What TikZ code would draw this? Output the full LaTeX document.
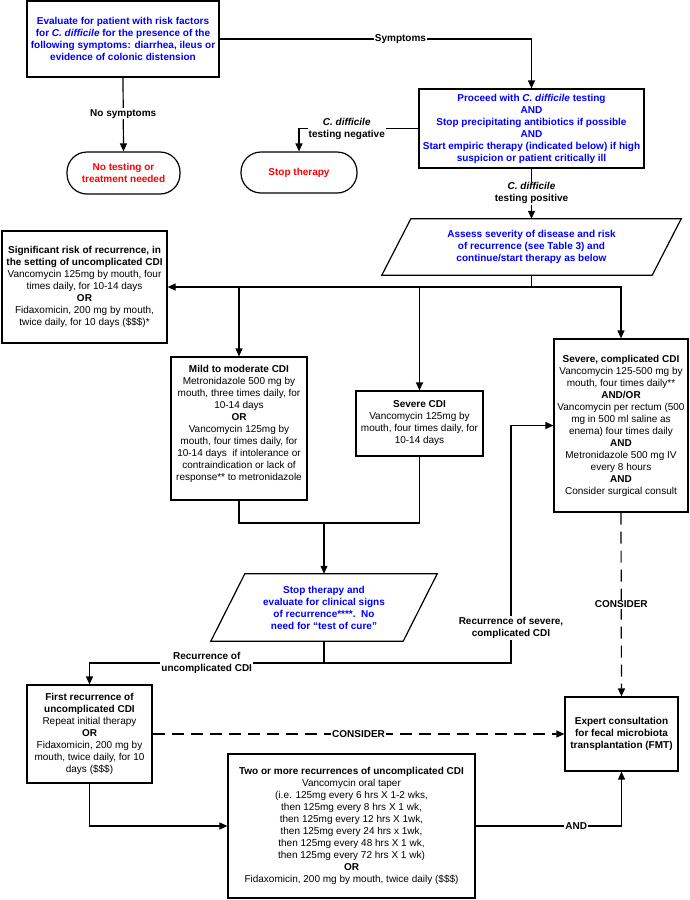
\documentclass[tikz,border=0pt]{standalone}
\usepackage{fontspec}
\setmainfont{Liberation Sans}
\usetikzlibrary{arrows.meta,positioning,calc}

\newcommand\boxfont{\fontsize{10}{12}\selectfont}

\tikzset{
    box/.style={draw,line width=1.2pt,align=center,inner sep=1pt,font=\boxfont},
    bluebox/.style={box,text=blue,font=\boxfont\bfseries},
    term/.style={box,rounded corners=20pt,text=red,font=\boxfont\bfseries},
    paratext/.style={align=center,inner sep=0pt,text=blue,font=\boxfont\bfseries},
    lbl/.style={fill=white,inner sep=1pt,align=center,font=\boxfont\bfseries},
    link/.style={line width=1.2pt},
    arr/.style={link,-{Triangle[length=8pt,width=7pt]}},
    maybe/.style={arr,dash pattern=on 12pt off 7pt}
}

\begin{document}
\begin{tikzpicture}[x=1pt,y=-1pt]
\useasboundingbox (0,0) rectangle (690,900);

% === Screening ===
\node[bluebox,minimum width=192,minimum height=76] (eval) at (123,39)
    {Evaluate for patient with risk factors\\
     for \textit{C. difficile} for the presence of the\\
     following symptoms: diarrhea, ileus or\\
     evidence of colonic distension};
\node[bluebox,minimum width=225,minimum height=79] (proceed) at (531.5,128.5)
    {Proceed with \textit{C. difficile} testing\\
     AND\\
     Stop precipitating antibiotics if possible\\
     AND\\
     Start empiric therapy (indicated below) if high\\
     suspicion or patient critically ill};
\node[term,minimum width=113,minimum height=42] (notest) at (123.5,173)
    {No testing or\\ treatment needed};
\node[term,minimum width=116,minimum height=41] (stopthx) at (299,172.5)
    {Stop therapy};

% Assess (parallelogram)
\node[paratext,minimum width=299,minimum height=56] (assess) at (531.5,247)
    {Assess severity of disease and risk\\
     of recurrence (see Table 3) and\\
     continue/start therapy as below};
\draw[link] (assess.south west) -- ($(assess.north west)+(29,0)$)
    -- (assess.north east) -- ($(assess.south east)-(29,0)$) -- cycle;

% === Treatment by severity ===
\node[box,minimum width=165,minimum height=112] (risk) at (84.5,287)
    {\textbf{Significant risk of recurrence, in}\\
     \textbf{the setting of uncomplicated CDI}\\
     Vancomycin 125mg by mouth, four\\
     times daily, for 10-14 days\\
     \textbf{OR}\\
     Fidaxomicin, 200 mg by mouth,\\
     twice daily, for 10 days (\$\$\$)*};
\node[box,minimum width=136,minimum height=143] (mild) at (239,428.5)
    {\textbf{Mild to moderate CDI}\\
     Metronidazole 500 mg by\\
     mouth, three times daily, for\\
     10-14 days\\
     \textbf{OR}\\
     Vancomycin 125mg by\\
     mouth, four times daily, for\\
     10-14 days\ \ if intolerance or\\
     contraindication or lack of\\
     response** to metronidazole\\ ~};
\node[box,minimum width=127,minimum height=65] (severe) at (419.5,423.5)
    {\textbf{Severe CDI}\\
     Vancomycin 125mg by\\
     mouth, four times daily, for\\
     10-14 days};
\node[box,minimum width=134,minimum height=173] (complicated) at (621,425.5)
    {\textbf{Severe, complicated CDI}\\
     Vancomycin 125-500 mg by\\
     mouth, four times daily**\\
     \textbf{AND/OR}\\
     Vancomycin per rectum (500\\
     mg in 500 ml saline as\\
     enema) four times daily\\
     \textbf{AND}\\
     Metronidazole 500 mg IV\\
     every 8 hours\\
     \textbf{AND}\\
     Consider surgical consult};

% Stop and evaluate (parallelogram)
\node[paratext,minimum width=226,minimum height=67] (stopeval) at (324,607.5)
    {Stop therapy and\\
     evaluate for clinical signs\\
     of recurrence****.\ \ No\\
     need for “test of cure”};
\draw[link] (stopeval.south west) -- ($(stopeval.north west)+(34,0)$)
    -- (stopeval.north east) -- ($(stopeval.south east)-(34,0)$) -- cycle;

% === Recurrence ===
\node[box,minimum width=125,minimum height=98] (first) at (89.5,734)
    {\textbf{First recurrence of}\\
     \textbf{uncomplicated CDI}\\
     Repeat initial therapy\\
     \textbf{OR}\\
     Fidaxomicin, 200 mg by\\
     mouth, twice daily, for 10\\
     days (\$\$\$)};
\node[box,font=\boxfont\bfseries,minimum width=113,minimum height=74] (expert) at (621.5,734)
    {Expert consultation\\
     for fecal microbiota\\
     transplantation (FMT)};
\node[box,minimum width=247,minimum height=144] (two) at (351.5,826)
    {\textbf{Two or more recurrences of uncomplicated CDI}\\
     Vancomycin oral taper\\
     (i.e. 125mg every 6 hrs X 1-2 wks,\\
     then 125mg every 8 hrs X 1 wk,\\
     then 125mg every 12 hrs X 1wk,\\
     then 125mg every 24 hrs x 1wk,\\
     then 125mg every 48 hrs X 1 wk,\\
     then 125mg every 72 hrs X 1 wk)\\
     \textbf{OR}\\
     Fidaxomicin, 200 mg by mouth, twice daily (\$\$\$)};

% === Connectors ===
\draw[arr] (eval.east) -| (proceed.north) node[lbl,pos=0.29] {Symptoms};
\draw[arr] (eval.south) -- (notest.north) node[lbl,pos=0.49] {No symptoms};
\draw[arr] (proceed.west) -| (stopthx.north)
    node[lbl,pos=0.3] {\textit{C. difficile}\\ testing negative};
\draw[arr] (proceed.south) -- (assess.north)
    node[lbl,pos=0.49] {\textit{C. difficile}\\ testing positive};

\coordinate (split) at (531.5,287);
\draw[link] (assess.south) -- (split);
\draw[arr] (split) -- (risk.east);
\draw[arr] (split) -| (complicated.north);
\draw[arr] (mild.north |- split) -- (mild.north);
\draw[arr] (severe.north |- split) -- (severe.north);

\coordinate (join) at (324,523);
\draw[link] (mild.south) |- (join);
\draw[link] (severe.south) |- (join);
\draw[arr] (join) -- (stopeval.north);

\coordinate (rec) at (324,663);
\coordinate (upturn) at (511,663);
\draw[link] (stopeval.south) -- (rec);
\draw[arr] (rec) -| (first.north)
    node[lbl,pos=0.25] {Recurrence of\\ uncomplicated CDI};
\draw[arr] (rec) -- (upturn) |- (complicated.west)
    node[lbl,pos=0.074] {Recurrence of severe,\\ complicated CDI};

\draw[maybe] (complicated.south) -- (expert.north) node[lbl,midway] {CONSIDER};
\draw[maybe] (first.east) -- (expert.west) node[lbl,midway] {CONSIDER};
\draw[arr] (first.south) |- (two.west);
\draw[arr] (two.east) -| (expert.south) node[lbl,pos=0.345] {AND};

\end{tikzpicture}
\end{document}
